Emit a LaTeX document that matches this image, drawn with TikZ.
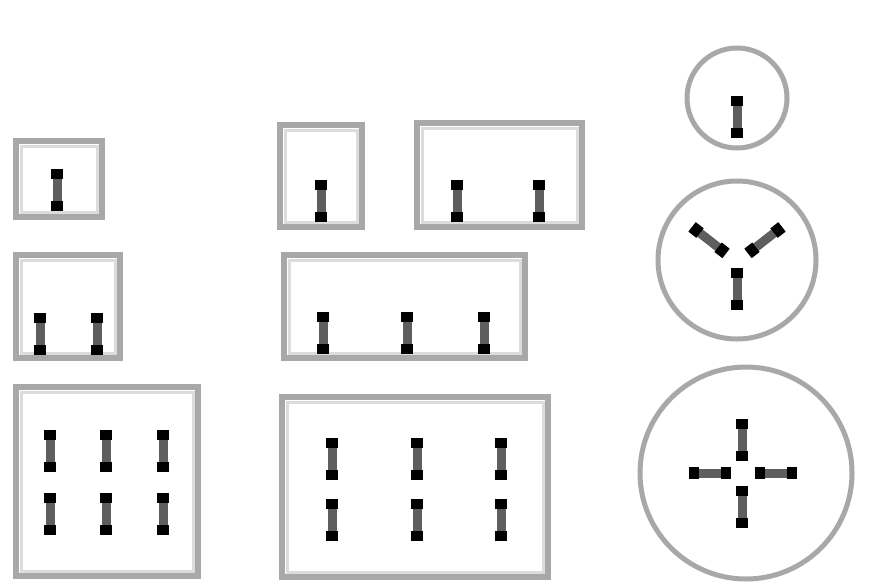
\documentclass[tikz,border=0pt]{standalone}
\usetikzlibrary{calc}
\definecolor{boxgray}{HTML}{A8A8A8}
\definecolor{halo}{HTML}{DCDCDC}
\definecolor{pingray}{HTML}{5E5E5E}
\tikzset{
  frame/.style={draw=boxgray, line width=6pt},
  framehalo/.style={draw=halo, line width=3pt},
  pinline/.style={draw=pingray, line width=9pt},
  pindot/.style={draw=black, line width=12pt},
}
\newcommand\pp[2]{%
  \draw[pinline] #1 -- #2;
  \draw[pindot] #1 -- ($#1!10pt!#2$);
  \draw[pindot] ($#2!10pt!#1$) -- #2;}
\newcommand\vpp[2]{\pp{(#1,#2-21)}{(#1,#2+21)}}
\begin{document}
\begin{tikzpicture}[x=1pt,y=-1pt]
\useasboundingbox[fill=white] (0,0) rectangle (874,584);
% left column
\draw[framehalo] (21,146) rectangle (97,212);
\draw[frame] (16,141) rectangle (102,217);
\vpp{57}{190}
\draw[framehalo] (21,260) rectangle (115,353);
\draw[frame] (16,255) rectangle (120,358);
\vpp{40}{334} \vpp{97}{334}
\draw[framehalo] (21,392) rectangle (193,571);
\draw[frame] (16,387) rectangle (198,576);
\vpp{50}{451} \vpp{106}{451} \vpp{163}{451}
\vpp{50}{514} \vpp{106}{514} \vpp{163}{514}
% middle column
\draw[framehalo] (285,130) rectangle (357,222);
\draw[frame] (280,125) rectangle (362,227);
\vpp{321}{201}
\draw[framehalo] (422,128) rectangle (577,222);
\draw[frame] (417,123) rectangle (582,227);
\vpp{457}{201} \vpp{539}{201}
\draw[framehalo] (289,260) rectangle (520,353);
\draw[frame] (284,255) rectangle (525,358);
\vpp{323}{333} \vpp{407}{333} \vpp{484}{333}
\draw[framehalo] (287,402) rectangle (543,572);
\draw[frame] (282,397) rectangle (548,577);
\vpp{332}{459} \vpp{417}{459} \vpp{501}{459}
\vpp{332}{520} \vpp{417}{520} \vpp{501}{520}
% right column
\draw[frame, line width=5pt] (737,98) circle[radius=50];
\vpp{737}{117}
\draw[frame, line width=5pt] (737,260) circle[radius=79];
\vpp{737}{289}
\coordinate (ic) at (737,262);
\pp{($(ic)+(142:-14)$)}{($(ic)+(142:-57)$)}
\pp{($(ic)+(38:-14)$)}{($(ic)+(38:-57)$)}
\draw[frame, line width=5pt] (746,473) circle[radius=106];
\vpp{742}{440} \vpp{742}{507}
\pp{(689,473)}{(731,473)}
\pp{(755,473)}{(797,473)}
\end{tikzpicture}
\end{document}
